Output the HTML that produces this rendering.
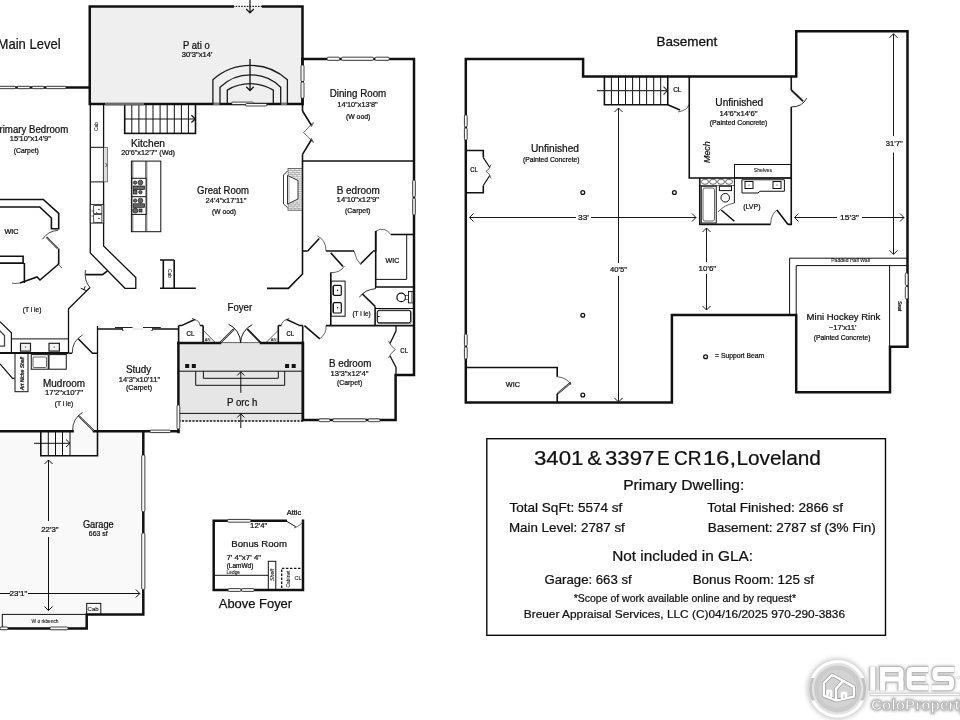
<!DOCTYPE html>
<html><head><meta charset="utf-8">
<style>
html,body{margin:0;padding:0;background:#fff;width:960px;height:720px;overflow:hidden}
svg{display:block}
text{font-family:"Liberation Sans",sans-serif;fill:#111;stroke:#111;stroke-width:0.24}
svg{will-change:transform}
.w{stroke:#111;stroke-width:2.5;fill:none;stroke-linecap:square}
.m{stroke:#111;stroke-width:1.6;fill:none}
.t{stroke:#111;stroke-width:1;fill:none}
.h{stroke:#222;stroke-width:0.7;fill:none}
.win{stroke:#888;stroke-width:1.2;fill:#fff}
</style></head>
<body>
<svg width="960" height="720" viewBox="0 0 960 720">
<rect width="960" height="720" fill="#fff"/>

<!-- ===== MAIN LEVEL ===== -->
<!-- Patio -->
<path d="M0,431.3 H143.3 V614.4 H86.7 V628.4 H0 Z" fill="#f9f9f9"/>
<rect x="89.75" y="6.5" width="212.75" height="97.5" fill="#efefef"/>
<path class="w" d="M232.8,6.5 H89.75 V104 H302.5 V6.5 H263.1"/>
<path d="M232.8,6.4 H263.1" stroke="#222" stroke-width="1.3" stroke-dasharray="1.6,1.2"/>
<!-- arrows top of patio -->
<path class="t" style="stroke-width:1.2" d="M250,0 V13 M246.2,9 L250,13 L253.8,9"/>
<path class="t" style="stroke-width:1.3" d="M250,59 V90.6 M246.3,86.8 L250,90.6 L253.7,86.8"/>
<!-- arches -->
<g stroke="#1a1a1a" stroke-width="1.3" fill="none">
<path d="M212.9,104 V79.75 A55.5,55.5 0 0 1 287.4,79.75 V104"/>
<path d="M220,104 V87.2 A43.3,43.3 0 0 1 280.7,87.2 V104"/>
<path d="M227.3,104 V90.1 A44.5,44.5 0 0 1 273.3,90.1 V104"/>
</g>
<path d="M213.5,104 H219.5 M281.2,104 H286.8" stroke="#999" stroke-width="1.6"/>
<!-- Primary bedroom top wall -->
<path class="w" d="M0,87.5 H89.75"/>

<!-- Dining room -->
<path class="w" d="M302.5,59 H414 V375 H395.6 V420 H303 V343"/>
<path class="w" d="M302.5,59 V104"/>
<path class="m" d="M302.5,104 V111 M302.5,154.3 V274 L288.4,288.4 H267"/>
<path class="m" d="M302.5,111 L311.5,125.5 M302.5,154.3 L311.5,139.5"/>
<path class="h" d="M311,127 Q312.5,125 313.5,122.5 M313,122.5 Q309,126.5 303.5,132.7 Q309,137 313,142.5 M311,138 Q312.5,140 313.5,142.5"/>
<path class="m" d="M302.5,161 H414.5"/>

<!-- fireplace -->
<rect x="288" y="168.4" width="14" height="41.8" fill="#f4f4f4" stroke="#333" stroke-width="0.7"/>
<g stroke="#666" stroke-width="0.45">
<path d="M288,170.5 H302 M288,172.6 H302 M288,174.7 H302 M288,176.8 H302 M288,178.9 H302 M288,181 H302 M288,183.1 H302 M288,185.2 H302 M288,187.3 H302 M288,189.4 H302 M288,191.5 H302 M288,193.6 H302 M288,195.7 H302 M288,197.8 H302 M288,199.9 H302 M288,202 H302 M288,204.1 H302 M288,206.2 H302 M288,208.3 H302"/>
<path d="M291,168.4 V170.5 M295,168.4 V170.5 M299,168.4 V170.5 M293,170.5 V172.6 M297,170.5 V172.6 M291,172.6 V174.7 M295,172.6 V174.7 M299,172.6 V174.7 M293,174.7 V176.8 M297,174.7 V176.8 M293,202 V204.1 M297,202 V204.1 M291,204.1 V206.2 M295,204.1 V206.2 M299,204.1 V206.2 M293,206.2 V208.3 M297,206.2 V208.3 M291,208.3 V210.2 M295,208.3 V210.2 M299,208.3 V210.2"/>
</g>
<path d="M287.5,171 L283.5,175 V204 L287.5,207.5" stroke="#222" stroke-width="0.9" fill="#fff"/>
<path d="M287.5,175.5 L298,180.5 V199 L287.5,204 Z" stroke="#222" stroke-width="0.9" fill="#fff"/>
<path d="M289,177 V202.5" stroke="#555" stroke-width="0.5"/>
<!-- bedroom 1 bottom & hall -->
<path class="m" d="M302.5,251 H307.7 M326,251 H354 M373,251 H375.7 V231"/>
<path class="m" d="M307.7,251 L319.25,238.5"/>
<path class="h" d="M317.5,236 Q326,240 326,251"/>
<path class="m" d="M330.8,252.9 L343,266.5"/>
<path class="h" d="M344.5,266 Q340,273 330.8,272.6"/>
<path class="m" d="M360.7,263.8 L373,251.5"/>
<path class="h" d="M354,251 Q356,260 361,265"/>
<path class="m" d="M330.8,272.6 V325.6"/>
<path class="h" d="M375.7,231 Q385,226 390.7,234.5"/>
<path class="m" d="M390.7,234.5 H414.5"/>
<path class="t" d="M406.7,234.5 V279.4 H375.7"/>
<path class="m" d="M375.7,231 V287 H414.5"/>
<!-- vanity -->
<rect x="331" y="281.1" width="14.1" height="35.1" class="t"/>
<rect x="331.5" y="286" width="2" height="9" fill="#888"/><rect x="331.5" y="303.5" width="2" height="9" fill="#888"/>
<rect x="333.4" y="285.4" width="7.9" height="9.9" rx="1" fill="#fff" stroke="#111" stroke-width="1.2"/>
<rect x="333.4" y="302.7" width="7.9" height="10.3" rx="1" fill="#fff" stroke="#111" stroke-width="1.2"/>
<circle cx="337.5" cy="290.3" r="0.7" fill="#111"/><circle cx="337.5" cy="307.8" r="0.7" fill="#111"/>
<!-- bath door -->
<path stroke="#222" stroke-width="1.7" fill="none" d="M362.3,293.9 L375.1,306.4"/>
<path class="t" style="stroke-width:0.9" d="M359.2,297.4 Q365,289.5 375.5,288.7 V286.6"/>
<path class="t" d="M375.1,308.5 H414"/>
<path class="m" d="M375.1,306.4 V325.6"/>
<rect x="377.6" y="310.6" width="33.6" height="12.8" rx="2" fill="#fff" stroke="#888" stroke-width="1.1"/>
<rect x="377.2" y="310.2" width="33.4" height="12.6" rx="2" fill="none" stroke="#111" stroke-width="1"/>
<path d="M377.5,316.5 H379.5" stroke="#111" stroke-width="1"/>
<circle cx="401.2" cy="297.4" r="4.3" fill="#fff" stroke="#111" stroke-width="1.2"/>
<rect x="405.5" y="295.5" width="3" height="4" fill="#fff" stroke="#111" stroke-width="0.6"/>
<rect x="408.5" y="291.5" width="4.5" height="11.4" fill="#fff" stroke="#111" stroke-width="0.9"/>
<rect x="411" y="292.2" width="1.6" height="10" fill="#999"/>

<!-- bedroom 2 -->
<path class="m" d="M326,325.6 H414.5"/>
<path class="m" d="M304.4,325.6 L319.8,338.8"/>
<path class="h" d="M319.8,338.8 Q327,333 326,325.6"/>
<path class="m" style="stroke-width:1.3" d="M396,325.6 V331 L390,343.5 M390,355.7 L396,367.5 V375"/>
<path class="h" d="M388.5,341 Q390.5,346 395.4,349.6 Q390.5,353 388.5,358"/>
<path class="m" d="M395.6,375 H414.5"/>

<!-- Porch -->
<rect x="178.4" y="343" width="124.3" height="78" fill="#e6e6e6"/>
<path class="w" d="M178.4,343 V432 M302.7,343 V420"/>
<path class="m" d="M178.6,325.6 V343 M302.7,325.6 V343"/>
<path class="w" d="M178.4,343 H220 M261,343 H302.7"/>
<path class="t" d="M178.4,371.2 H302.7 M178.4,413.4 H302.7"/>
<path d="M178.4,421 H302.7" stroke="#111" stroke-width="1.5" stroke-dasharray="2.2,1.3"/>
<path class="t" d="M195.7,371.2 V385.3 H284.7 V371.2 M203.4,371.2 V378.3 H278.3 V371.2"/>
<rect x="185.2" y="364" width="4" height="4" fill="#111"/><rect x="191.8" y="364" width="4" height="4" fill="#111"/>
<rect x="285.1" y="364" width="4" height="4" fill="#111"/><rect x="291.7" y="364" width="4" height="4" fill="#111"/>
<path class="t" d="M240.8,392.8 V371.8 M237.2,375.5 L240.8,371.8 L244.4,375.5"/>
<path class="t" d="M240.8,428 V413.8 M237.2,417.5 L240.8,413.8 L244.4,417.5"/>
<!-- closets above porch -->
<path class="m" d="M203.1,325.6 V343 M278.3,325.6 V343"/>
<path stroke="#111" stroke-width="1.5" fill="none" d="M178.6,325.6 H181.6 L194.7,319.5 M199.8,325.6 H203.1 M302.8,325.6 H299.8 L286.7,319.5 M281.6,325.6 H278.3"/>
<path class="h" d="M191.9,318.2 L195.5,320 M194.7,319.5 Q199.5,321 199.8,324.8 M289.5,318.2 L285.9,320 M286.7,319.5 Q281.9,321 281.6,324.8"/>
<path class="h" d="M203.1,330.3 L215.8,343 M278.3,330.3 L265.6,343"/>
<text style="stroke-width:0.05" x="204.66" y="341" font-size="3.5" textLength="5.74" lengthAdjust="spacingAndGlyphs">AN</text>
<text style="stroke-width:0.05" x="270.66" y="341" font-size="3.5" textLength="5.74" lengthAdjust="spacingAndGlyphs">AN</text>
<path stroke="#222" stroke-width="1.8" fill="none" d="M220,343 L234,329 M261,343 L247.3,329"/>
<path stroke="#fff" stroke-width="0.5" fill="none" d="M220.5,342.5 L233.5,329.5"/>
<path class="t" d="M228.7,324.3 A20.6,20.6 0 0 1 240.6,343 M252.3,324.7 A20.2,20.2 0 0 0 240.6,343"/>
<path class="h" d="M220,342.6 H261"/>
<!-- Study -->
<path class="m" style="stroke-width:1.3" d="M97.5,326 V432"/>
<path class="m" d="M97.5,329 H178.4"/>
<!-- bottom wall / garage top -->
<path class="w" d="M0,431.3 H72.6 M94,431.3 H178.4"/>

<!-- Kitchen -->
<path class="m" style="stroke-width:1.3" d="M90.3,104 V253 L125,288.3 H135.8 V277.5 L103.6,246 V104"/>
<path class="t" d="M90.3,147.3 H103.6 M90.3,181.9 H103.6"/>
<rect x="103.6" y="147.3" width="3.9" height="34.6" fill="#ddd" stroke="#333" stroke-width="0.6"/>
<path class="h" d="M105.5,163 L107,165 L105.5,167"/>
<rect x="90.3" y="204.4" width="13.4" height="18.7" fill="#fff" stroke="#222" stroke-width="0.9"/>
<rect x="93.7" y="205.6" width="8.2" height="8.1" fill="#fff" stroke="#222" stroke-width="0.8"/>
<rect x="93.7" y="214.6" width="8.2" height="7.9" fill="#fff" stroke="#222" stroke-width="0.8"/>
<circle cx="99" cy="209.5" r="0.7" fill="#111"/><circle cx="99" cy="218.5" r="0.7" fill="#111"/>
<path class="h" d="M91.5,211 H93.5 M91.5,216 H93.5 M96,212 L98,214"/>
<!-- stairs -->
<rect x="124.7" y="104" width="70.8" height="29.4" class="m"/>
<path class="t" d="M131.8,104 V133.4 M138.9,104 V133.4 M146,104 V133.4 M153,104 V133.4 M160.1,104 V133.4 M167.2,104 V133.4 M174.3,104 V133.4 M181.4,104 V133.4 M188.4,104 V133.4 M124.7,119 H195.5"/>
<path stroke="#111" stroke-width="1.3" fill="none" d="M191.4,115.3 L195.3,119.1 L191.4,122.6"/>
<!-- island -->
<rect x="131.4" y="161.1" width="29.4" height="70.6" class="t"/>
<path class="h" d="M132.8,161.1 V231.7 M145.6,161.1 V231.7 M146.8,161.1 V231.7"/>
<rect x="131.9" y="178.3" width="14.2" height="36.1" fill="#fff" stroke="#111" stroke-width="1"/>
<path class="t" d="M131.9,196.7 H146.1"/>
<g fill="#666" stroke="#111" stroke-width="0.7">
<circle cx="135.1" cy="182.6" r="1.7"/><circle cx="140.4" cy="182.6" r="2.4"/>
<rect x="133.2" y="186" width="11.3" height="3.5"/>
<rect x="133.4" y="190.4" width="3.5" height="3.6"/><circle cx="140.4" cy="192.2" r="1.7"/>
<circle cx="135.1" cy="200.6" r="1.7"/><circle cx="140.4" cy="200.6" r="2.4"/>
<rect x="133.2" y="203.8" width="11.3" height="3.5"/>
<circle cx="135.3" cy="210.6" r="2.5"/><rect x="139" y="209" width="3" height="3"/>
</g>
<!-- cab in great room -->
<path class="m" d="M160,260 H174.2 M163.3,260 V288.3 M174.2,260 V288.3 M160,288.3 H195.8"/>
<!-- pantry door -->
<path class="m" d="M85.4,274.6 H102.5 L107.5,270.8"/>
<path class="t" style="stroke-width:0.8" d="M85.4,270 Q84,281 90,287.5"/>
<path class="t" d="M80.8,288.3 L86.7,290.8 M83.8,289.6 L85.3,286.3"/>
<path class="m" style="stroke-width:1.3" d="M90,287.5 L68.5,308.75 V353.2"/>

<!-- Primary WIC -->
<path class="m" d="M0,199.5 H43.3 L58.7,213.4 V228.7 H51.4 V218 L39.7,207 H0"/>
<path class="m" d="M58.7,248.6 V264 L40,280 L37,277 L20,283"/>
<path class="t" style="stroke-width:0.8" d="M58,230.3 Q48,231 42.4,239.3"/>
<path stroke="#222" stroke-width="1.8" fill="none" d="M46.5,237.2 L57.6,248.3"/>
<path stroke="#fff" stroke-width="0.5" fill="none" d="M47,237.7 L57.1,247.8"/>
<path class="m" d="M0,256.3 H23.1 V263.1 H0 M24.4,263.1 V283.1"/>
<path class="h" d="M57.5,263.75 L62,268"/>
<path class="h" d="M20,283 Q14,284 12,283"/>

<!-- Mudroom -->
<path class="t" d="M11.4,338.9 H68.1"/>
<path class="m" style="stroke-width:1.8" d="M0,353 H68.1"/>

<rect x="20.5" y="343.3" width="10" height="7.8" fill="#f2f2f2" stroke="#222" stroke-width="1.2"/>
<rect x="49" y="343.3" width="10.4" height="7.8" fill="#f2f2f2" stroke="#222" stroke-width="1.2"/>
<circle cx="25.5" cy="347" r="0.6" fill="#111"/><circle cx="54.2" cy="347" r="0.6" fill="#111"/>
<rect x="15" y="353.3" width="13" height="38.4" class="t"/>
<rect x="31.25" y="354.6" width="17" height="14.6" class="t"/>
<rect x="33" y="357" width="13.5" height="10.5" rx="1" class="h"/>
<rect x="49" y="354.6" width="17.25" height="14.6" class="t"/>
<path stroke="#111" stroke-width="1.6" fill="none" d="M78.2,338.8 L92.5,353.2 H97.6 M68.5,353.2 H72.1"/>
<path class="t" style="stroke-width:0.8" d="M72.3,353.2 A20.2,20.2 0 0 1 82.6,335"/>
<path stroke="#222" stroke-width="1.8" fill="none" d="M78.7,415.9 L94,431"/>
<path stroke="#fff" stroke-width="0.5" fill="none" d="M79.2,416.4 L93.5,430.5"/>
<path class="t" style="stroke-width:0.8" d="M72.6,431 A21.4,21.4 0 0 1 82.6,412.3"/>
<path class="m" style="stroke-width:1.2" d="M0,321.7 L11.4,332.8 V352.5 M0,363.9 L12.5,378.3 H14.6"/>
<path stroke="#444" stroke-width="1.3" fill="none" d="M-1,330 L4.5,335.6 V346.1 H-1"/>

<!-- Garage -->
<path class="w" d="M143.3,431.3 V614.4 H86.7 V628.4 H0"/>
<rect x="2.3" y="614.4" width="84.4" height="14" class="t"/>
<rect x="86.7" y="603.4" width="14.1" height="11" class="t"/>
<path class="m" d="M40.8,431.3 V455.8 H97.5 V431.3"/>
<path class="t" d="M48.3,431.3 V455.8 M55.5,431.3 V455.8 M62.5,431.3 V455.8 M70,431.3 V455.8 M34,443.3 H70 M66,439.5 L70,443.3 L66,447"/>
<path class="t" d="M48.5,460 V521 M48.5,537 V610.5 M44.5,464 L48.5,460 L52.5,464 M44.5,606.5 L48.5,610.5 L52.5,606.5"/>
<path class="t" d="M0,593.5 H10 M28,593.5 H139.8 M135.8,589.5 L139.8,593.5 L135.8,597.5"/>

<!-- Bonus room -->
<path class="w" d="M285.8,520.8 H213.7 V590 H303 V520.8"/>
<path class="t" d="M285.8,520.8 L295.8,526.7"/>
<path class="h" d="M294,528 Q302,525 303,520.8"/>
<path class="t" d="M213.7,575.3 H268.3"/>
<rect x="268.3" y="561.3" width="7.5" height="28.7" class="t"/>
<path d="M281.7,588 V568.3 H303" stroke="#111" stroke-width="1.3" fill="none" stroke-dasharray="2.4,1.6"/>

<!-- ===== MAIN LEVEL TEXT ===== -->
<g>
<text x="-2.47" y="48.6" font-size="14.3" textLength="63.15" lengthAdjust="spacingAndGlyphs">Main Level</text>
<text x="183.05" y="49" font-size="10.2" textLength="26.70" lengthAdjust="spacingAndGlyphs">P ati o</text>
<text x="181.77" y="57" font-size="7" textLength="30.65" lengthAdjust="spacingAndGlyphs">30'3"x14'</text>
<text x="329.71" y="97" font-size="10.2" textLength="56.52" lengthAdjust="spacingAndGlyphs">Dining Room</text>
<text x="337.37" y="106.5" font-size="7.5" textLength="40.29" lengthAdjust="spacingAndGlyphs">14'10"x13'8"</text>
<text x="345.91" y="118.5" font-size="7" textLength="24.51" lengthAdjust="spacingAndGlyphs">(W ood)</text>
<text x="-7" y="132.5" font-size="10.2" textLength="75.3" lengthAdjust="spacingAndGlyphs">Primary Bedroom</text>
<text x="9.82" y="141.2" font-size="7.5" textLength="41.13" lengthAdjust="spacingAndGlyphs">15'10"x14'9"</text>
<text x="13.81" y="153.3" font-size="7" textLength="25.10" lengthAdjust="spacingAndGlyphs">(Carpet)</text>
<text x="130.91" y="146.5" font-size="10.2" textLength="34.11" lengthAdjust="spacingAndGlyphs">Kitchen</text>
<text x="121.20" y="155" font-size="7.5" textLength="53.87" lengthAdjust="spacingAndGlyphs">20'6"x12'7" (Wd)</text>
<text x="197.12" y="194.2" font-size="10.2" textLength="51.84" lengthAdjust="spacingAndGlyphs">Great Room</text>
<text x="205.62" y="203.3" font-size="7.5" textLength="40.81" lengthAdjust="spacingAndGlyphs">24'4"x17'11"</text>
<text x="212.01" y="213.6" font-size="7" textLength="23.91" lengthAdjust="spacingAndGlyphs">(W ood)</text>
<text x="336.71" y="194.2" font-size="10.2" textLength="43.05" lengthAdjust="spacingAndGlyphs">B edroom</text>
<text x="336.60" y="202" font-size="7.5" textLength="42.39" lengthAdjust="spacingAndGlyphs">14'10"x12'9"</text>
<text x="345.01" y="212.5" font-size="7" textLength="25.40" lengthAdjust="spacingAndGlyphs">(Carpet)</text>
<text x="4.44" y="233.8" font-size="6.5" textLength="14.14" lengthAdjust="spacingAndGlyphs">WIC</text>
<text x="385.50" y="263.1" font-size="6.5" textLength="13.78" lengthAdjust="spacingAndGlyphs">WIC</text>
<text x="22.83" y="311.9" font-size="7" textLength="18.67" lengthAdjust="spacingAndGlyphs">(T i le)</text>
<text x="352.43" y="315.5" font-size="7" textLength="18.29" lengthAdjust="spacingAndGlyphs">(T i le)</text>
<text x="227.55" y="310.9" font-size="10.2" textLength="24.64" lengthAdjust="spacingAndGlyphs">Foyer</text>
<text x="186.42" y="335.6" font-size="6.5" textLength="7.93" lengthAdjust="spacingAndGlyphs">CL</text>
<text x="286.50" y="335.6" font-size="6.5" textLength="7.56" lengthAdjust="spacingAndGlyphs">CL</text>
<text x="400.31" y="353.2" font-size="6.5" textLength="7.73" lengthAdjust="spacingAndGlyphs">CL</text>
<text x="328.93" y="366.8" font-size="10.2" textLength="42.49" lengthAdjust="spacingAndGlyphs">B edroom</text>
<text x="330.62" y="375.5" font-size="7.5" textLength="37.79" lengthAdjust="spacingAndGlyphs">13'3"x12'4"</text>
<text x="337.01" y="384.5" font-size="7" textLength="25.21" lengthAdjust="spacingAndGlyphs">(Carpet)</text>
<text x="125.95" y="373.2" font-size="10.2" textLength="25.25" lengthAdjust="spacingAndGlyphs">Study</text>
<text x="118.89" y="381.6" font-size="7.5" textLength="41.26" lengthAdjust="spacingAndGlyphs">14'3"x10'11"</text>
<text x="125.95" y="390.4" font-size="7" textLength="26.14" lengthAdjust="spacingAndGlyphs">(Carpet)</text>
<text x="43.03" y="386.9" font-size="10.2" textLength="42.04" lengthAdjust="spacingAndGlyphs">Mudroom</text>
<text x="45.09" y="394.6" font-size="7.5" textLength="37.89" lengthAdjust="spacingAndGlyphs">17'2"x10'7"</text>
<text x="54.82" y="406.25" font-size="7" textLength="18.49" lengthAdjust="spacingAndGlyphs">(T i le)</text>
<text x="226.95" y="405.9" font-size="10.2" textLength="30.47" lengthAdjust="spacingAndGlyphs">P orc h</text>
<text x="82.95" y="527.5" font-size="10.2" textLength="30.82" lengthAdjust="spacingAndGlyphs">Garage</text>
<text x="88.85" y="535.8" font-size="7.5" textLength="18.88" lengthAdjust="spacingAndGlyphs">663 sf</text>
<text x="41.19" y="531.7" font-size="7.5" textLength="17.38" lengthAdjust="spacingAndGlyphs">22'3"</text>
<text x="9.62" y="596" font-size="7.5" textLength="17.73" lengthAdjust="spacingAndGlyphs">23'1"</text>
<text style="stroke-width:0.08" x="87.54" y="611" font-size="5" textLength="11.15" lengthAdjust="spacingAndGlyphs">Cab</text>
<text style="stroke-width:0.08" x="31.50" y="622.5" font-size="5" textLength="27.02" lengthAdjust="spacingAndGlyphs">W o rkbench</text>
<text x="286.74" y="514.7" font-size="6.5" textLength="14.47" lengthAdjust="spacingAndGlyphs">Attic</text>
<text x="250.09" y="528" font-size="7.5" textLength="17.22" lengthAdjust="spacingAndGlyphs">12'4"</text>
<text x="231.35" y="546.7" font-size="9.6" textLength="55.56" lengthAdjust="spacingAndGlyphs">Bonus Room</text>
<text x="226.45" y="560.3" font-size="7.5" textLength="34.68" lengthAdjust="spacingAndGlyphs">7' 4"x7' 4"</text>
<text x="226.63" y="567.5" font-size="7" textLength="26.73" lengthAdjust="spacingAndGlyphs">(LamWd)</text>
<text style="stroke-width:0.08" x="226.53" y="574.2" font-size="4.5" textLength="13.53" lengthAdjust="spacingAndGlyphs">Ledge</text>
<text style="stroke-width:0.08" x="294.44" y="580.3" font-size="5.5" textLength="7.10" lengthAdjust="spacingAndGlyphs">CL</text>
<text x="218.76" y="607.5" font-size="13.7" textLength="73.39" style="stroke-width:0.25" lengthAdjust="spacingAndGlyphs">Above Foyer</text>
<text style="stroke-width:0.08" transform="translate(98,131) rotate(-90)" font-size="4.5" textLength="9" lengthAdjust="spacingAndGlyphs">Cab</text>
<text style="stroke-width:0.08" transform="translate(168,269) rotate(90)" font-size="4.5" textLength="9" lengthAdjust="spacingAndGlyphs">Cab</text>
<text transform="translate(24,390) rotate(-90)" font-size="4.5" textLength="33" lengthAdjust="spacingAndGlyphs" font-style="italic">Art Niche Shelf</text>
<text style="stroke-width:0.08" transform="translate(273.5,581) rotate(-90)" font-size="5" textLength="12" lengthAdjust="spacingAndGlyphs" font-style="italic">Shelf</text>
<text style="stroke-width:0.08" transform="translate(289.5,587.5) rotate(-90)" font-size="4.5" textLength="17" lengthAdjust="spacingAndGlyphs">Cabinet</text>
</g>

<!-- ===== BASEMENT ===== -->
<path class="w" d="M465.8,59 H583.1 V76.5 H796.25 V31.25 H907.5 V346.7 H890 V392.2 H796.2 V315 H671.9 V402.5 H465.8 Z"/>
<!-- stairs -->
<path class="m" d="M604.4,76.5 V104.75 H667.75 V76.5"/>
<path class="t" d="M611.4,76.5 V104.75 M618.5,76.5 V104.75 M625.5,76.5 V104.75 M632.6,76.5 V104.75 M639.6,76.5 V104.75 M646.6,76.5 V104.75 M653.7,76.5 V104.75 M660.7,76.5 V104.75"/>
<path d="M596.9,90.6 H667.5 M663.5,86.6 L667.5,90.6 L663.5,94.6" stroke="#333" stroke-width="1.1" fill="none"/>
<path class="m" d="M667.75,104.75 L680,110"/>
<path class="h" d="M678,112 Q688,110 688.75,104.75"/>
<!-- mech/unfinished room -->
<path class="m" d="M689.25,76.5 V178 H791.25 V106.9 M791.25,90 V76.5"/>
<path stroke="#222" stroke-width="1.8" fill="none" d="M791.25,90 L803.1,101.25"/>
<path class="t" style="stroke-width:0.9" d="M791.25,106.9 A17.2,17.2 0 0 0 806.9,98.1"/>
<rect x="734.5" y="164.5" width="56.75" height="13.5" class="t"/>
<!-- bath -->
<path class="m" d="M699.75,178 V224.4 H770.6 M788,224.4 H791.25 V178"/>
<path class="t" d="M734.4,178 V203"/>
<path class="h" d="M734.4,203 Q724,205 718,212"/>
<rect x="699.75" y="178" width="34.65" height="7.6" class="h"/>
<g class="h"><ellipse cx="705" cy="181.8" rx="3.5" ry="2.5"/><ellipse cx="713" cy="181.8" rx="3.5" ry="2.5"/><ellipse cx="721" cy="181.8" rx="3.5" ry="2.5"/><ellipse cx="729" cy="181.8" rx="3.5" ry="2.5"/></g>
<rect x="701.25" y="186.25" width="15" height="36.75" class="t"/>
<rect x="703" y="188" width="11.5" height="33" rx="2" class="h"/>
<circle cx="725.25" cy="197.75" r="4.3" class="t"/>
<rect x="719.4" y="186.25" width="12.1" height="4.35" class="t"/>
<path class="t" d="M741.9,179.75 H784.4 V191.25 H760 L758,193 H742 Z"/>
<rect x="745" y="181.5" width="8" height="7" class="t"/><rect x="773" y="181.5" width="8" height="7" class="t"/>
<circle cx="749" cy="185" r="0.6" fill="#111"/><circle cx="777" cy="185" r="0.6" fill="#111"/>
<path class="m" d="M721.25,210 L734.4,221.25 M776.9,210 L788,224.4"/>
<path class="h" d="M770.6,224.4 Q771,214 777,210"/>
<!-- left CL -->
<path class="m" d="M465.8,150.5 H483.3 V157.6 M483.3,185.5 V192.7 H465.8"/>
<path class="t" style="stroke-width:1.2" d="M483.3,157.6 L489.8,167.5 M489.8,175.5 L483.3,185.5"/>
<path class="h" d="M491,164.5 Q490,169 486,171.3 Q490,173.5 491,178.5"/>
<!-- WIC -->
<path class="m" d="M465.8,367.5 H557.2 V376.7 M557.2,394 V402.5"/>
<path stroke="#222" stroke-width="1.8" fill="none" d="M557.2,394 L570.8,382.5"/>
<path stroke="#fff" stroke-width="0.5" fill="none" d="M557.8,393.4 L570.2,383.1"/>
<path class="h" d="M557.2,376.7 Q568,378 571,385"/>
<!-- support beams -->
<g fill="none" stroke="#111" stroke-width="1.3"><circle cx="582.8" cy="192.5" r="1.9"/><circle cx="674.4" cy="192.5" r="1.9"/><circle cx="582.8" cy="315.2" r="1.9"/><circle cx="582.8" cy="395" r="1.9"/><circle cx="705.6" cy="356.8" r="1.9"/></g>
<!-- padded half wall / rink -->
<path class="t" d="M789.6,315 V258.2 H907.5 M796.2,315 V265.6 H907.5 M889.6,265.6 V346.7"/>
<!-- dims -->
<g stroke="#1a1a1a" stroke-width="1" fill="none">
<path d="M469.5,217.5 H576 M591,217.5 H696 M473.5,213.5 L469.5,217.5 L473.5,221.5 M692,213.5 L696,217.5 L692,221.5"/>
<path d="M794.5,217.5 H837 M862,217.5 H904 M798.5,213.5 L794.5,217.5 L798.5,221.5 M900,213.5 L904,217.5 L900,221.5"/>
<path d="M618.5,108 V263 M618.5,276 V402 M614.5,112 L618.5,108 L622.5,112 M614.5,398 L618.5,402 L622.5,398"/>
<path d="M706.5,228 V262 M706.5,274 V310 M702.5,232 L706.5,228 L710.5,232 M702.5,306 L706.5,310 L710.5,306"/>
<path d="M893.5,33.75 V136 M893.5,152.5 V254.4 M889.5,37.75 L893.5,33.75 L897.5,37.75 M889.5,250.4 L893.5,254.4 L897.5,250.4"/>
</g>
<!-- basement text -->
<g>
<text x="656.58" y="45.7" font-size="13.6" textLength="60.77" style="stroke-width:0.3" lengthAdjust="spacingAndGlyphs">Basement</text>
<text x="530.94" y="151.7" font-size="10.2" textLength="48.05" lengthAdjust="spacingAndGlyphs">Unfinished</text>
<text x="523.01" y="162" font-size="7" textLength="56.62" lengthAdjust="spacingAndGlyphs">(Painted Concrete)</text>
<text x="470.23" y="172" font-size="6.5" textLength="7.53" lengthAdjust="spacingAndGlyphs">CL</text>
<text x="673.15" y="91.9" font-size="6.5" textLength="8.35" lengthAdjust="spacingAndGlyphs">CL</text>
<text x="715.36" y="105.5" font-size="10.2" textLength="47.87" lengthAdjust="spacingAndGlyphs">Unfinished</text>
<text x="719.60" y="115.5" font-size="7.5" textLength="37.83" lengthAdjust="spacingAndGlyphs">14'6"x14'6"</text>
<text x="709.75" y="125" font-size="7" textLength="57.65" lengthAdjust="spacingAndGlyphs">(Painted Concrete)</text>
<text transform="translate(709.5,163) rotate(-90)" font-size="8.5" font-style="italic" textLength="21.75" lengthAdjust="spacingAndGlyphs">Mech</text>
<text style="stroke-width:0.08" x="753.78" y="172" font-size="4.5" textLength="18.19" lengthAdjust="spacingAndGlyphs">Shelves</text>
<text x="743.19" y="208.75" font-size="7" textLength="17.28" lengthAdjust="spacingAndGlyphs">(LVP)</text>
<text x="578.04" y="219.5" font-size="7.5" textLength="10.91" lengthAdjust="spacingAndGlyphs">33'</text>
<text x="840.07" y="220" font-size="7.5" textLength="18.81" lengthAdjust="spacingAndGlyphs">15'3"</text>
<text x="885.75" y="145.5" font-size="7.5" textLength="16.88" lengthAdjust="spacingAndGlyphs">31'7"</text>
<text x="610.05" y="272" font-size="7.5" textLength="16.78" lengthAdjust="spacingAndGlyphs">40'5"</text>
<text x="698.62" y="270.8" font-size="7.5" textLength="17.53" lengthAdjust="spacingAndGlyphs">10'6"</text>
<text style="stroke-width:0.08" x="831.27" y="262.2" font-size="4.5" textLength="38.62" lengthAdjust="spacingAndGlyphs">Padded Half Wall</text>
<text transform="translate(897.5,301) rotate(90)" font-size="4.5" textLength="10" lengthAdjust="spacingAndGlyphs" font-style="italic">Seat</text>
<text x="806.55" y="320" font-size="9.4" textLength="73.79" lengthAdjust="spacingAndGlyphs">Mini Hockey Rink</text>
<text x="828.87" y="330" font-size="7.5" textLength="27.56" lengthAdjust="spacingAndGlyphs">~17'x11'</text>
<text x="813.63" y="340.4" font-size="7" textLength="56.79" lengthAdjust="spacingAndGlyphs">(Painted Concrete)</text>
<text x="715.07" y="358" font-size="7" textLength="49.18" lengthAdjust="spacingAndGlyphs">= Support Beam</text>
<text x="505.83" y="386.7" font-size="6.5" textLength="14.11" lengthAdjust="spacingAndGlyphs">WIC</text>
</g>

<!-- windows -->
<g fill="#f8f8f8" stroke="#1a1a1a" stroke-width="0.8">
<rect x="301.0" y="65" width="3" height="16.5" ry="1.2"/>
<rect x="301.0" y="82" width="3" height="16.3" ry="1.2"/>
<rect x="105" y="103" width="39" height="2.4" fill="#6a6a6a" stroke="none"/>
<rect x="231.7" y="102.1" width="21.8" height="2.5" rx="1"/>
<rect x="245.6" y="103.5" width="21.3" height="2.5" rx="1"/>
<rect x="-2" y="86.3" width="17.5" height="2.4" rx="1.2"/>
<rect x="17.5" y="86.3" width="12.5" height="2.4" rx="1.2"/>
<rect x="32" y="86.3" width="12" height="2.4" rx="1.2"/>
<rect x="46" y="86.3" width="20" height="2.4" rx="1.2"/>
<rect x="327.1" y="57.15" width="12.4" height="3.2" rx="1.2"/>
<rect x="341.5" y="57.15" width="32.0" height="3.2" rx="1.2"/>
<rect x="375" y="57.15" width="14.2" height="3.2" rx="1.2"/>
<rect x="412.7" y="180" width="2.6" height="17" ry="1.2"/>
<rect x="412.7" y="198" width="2.6" height="17" ry="1.2"/>
<rect x="318.75" y="418.90000000000003" width="11.25" height="2.8" rx="1.2"/>
<rect x="332.75" y="418.90000000000003" width="33.25" height="2.8" rx="1.2"/>
<rect x="368.1" y="418.90000000000003" width="11.9" height="2.8" rx="1.2"/>
<rect x="177.0" y="405" width="2.8" height="24" ry="1.2"/>
<rect x="150" y="430.1" width="20.6" height="2.5" rx="1.2"/>
<rect x="141.70000000000002" y="455" width="3.2" height="56.7" ry="1.2"/>
<rect x="141.70000000000002" y="533" width="3.2" height="56.4" ry="1.2"/>
<rect x="227.5" y="519.4" width="23.3" height="2.8" rx="1.2"/>
<rect x="228" y="588.6" width="13" height="2.8" rx="1.2"/>
<rect x="241.5" y="588.6" width="12.7" height="2.8" rx="1.2"/>
<rect x="0" y="627.0" width="8" height="2.8" rx="1.2"/>
<rect x="50" y="627.0" width="18" height="2.8" rx="1.2"/>
<rect x="464.40000000000003" y="115" width="2.8" height="12" ry="1.2"/>
<rect x="464.40000000000003" y="128" width="2.8" height="12" ry="1.2"/>
<rect x="464.40000000000003" y="334" width="2.8" height="12" ry="1.2"/>
<rect x="464.40000000000003" y="347" width="2.8" height="12" ry="1.2"/>
<rect x="905.3000000000001" y="273" width="2.8" height="12.5" ry="1.2"/>
<rect x="905.3000000000001" y="286.5" width="2.8" height="12.5" ry="1.2"/>
</g>
<path d="M115,327.6 H132.5 M143,327.6 H160.8 M122.9,329 V331 M152,329 V331" stroke="#222" stroke-width="1.1" fill="none"/>
<path d="M123,329 H152" stroke="#fff" stroke-width="2"/>
<path d="M132.5,329 H143" stroke="#ccc" stroke-width="0.8"/>
<!-- ===== INFO BOX ===== -->
<rect x="486.8" y="438.7" width="398.7" height="196.6" fill="#fff" stroke="#0a0a0a" stroke-width="1.4"/>
<g fill="#111">
<text class="tw" x="533.94" y="465.4" font-size="20.5" textLength="49.52" lengthAdjust="spacingAndGlyphs">3401</text>
<text class="tw" x="587.33" y="465.4" font-size="20.5" textLength="14.27" lengthAdjust="spacingAndGlyphs">&amp;</text>
<text class="tw" x="604.95" y="465.4" font-size="20.5" textLength="49.43" lengthAdjust="spacingAndGlyphs">3397</text>
<text class="tw" x="657.08" y="465.4" font-size="20.5" textLength="12.72" lengthAdjust="spacingAndGlyphs">E</text>
<text class="tw" x="673.99" y="465.4" font-size="20.5" textLength="27.46" lengthAdjust="spacingAndGlyphs">CR</text>
<text class="tw" x="702.67" y="465.4" font-size="20.5" textLength="33.40" lengthAdjust="spacingAndGlyphs">16,</text>
<text class="tw" x="736.44" y="465.4" font-size="20.5" textLength="84.43" lengthAdjust="spacingAndGlyphs">Loveland</text>

<text x="623.17" y="490" font-size="14.7" textLength="121.22" lengthAdjust="spacingAndGlyphs">Primary Dwelling:</text>
<text x="509.49" y="512" font-size="13.4" textLength="112.87" lengthAdjust="spacingAndGlyphs">Total SqFt: 5574 sf</text>
<text x="508.90" y="531.5" font-size="13.4" textLength="115.94" lengthAdjust="spacingAndGlyphs">Main Level: 2787 sf</text>
<text x="707.33" y="512" font-size="13.4" textLength="135.63" lengthAdjust="spacingAndGlyphs">Total Finished: 2866 sf</text>
<text x="707.68" y="532" font-size="13.4" textLength="168.13" lengthAdjust="spacingAndGlyphs">Basement: 2787 sf (3% Fin)</text>
<text x="612.18" y="560.7" font-size="14.7" textLength="140.89" lengthAdjust="spacingAndGlyphs">Not included in GLA:</text>
<text x="544.54" y="583.8" font-size="13.4" textLength="87.14" lengthAdjust="spacingAndGlyphs">Garage: 663 sf</text>
<text x="692.70" y="583.8" font-size="13.4" textLength="121.40" lengthAdjust="spacingAndGlyphs">Bonus Room: 125 sf</text>
<text x="573.64" y="601.9" font-size="11" textLength="222.36" lengthAdjust="spacingAndGlyphs">*Scope of work available online and by request*</text>
<text x="523.78" y="618" font-size="11.8" textLength="321.28" lengthAdjust="spacingAndGlyphs">Breuer Appraisal Services, LLC (C)04/16/2025 970-290-3836</text>
</g>

<!-- ===== LOGO WATERMARK ===== -->
<defs>
<filter id="blr" x="-30%" y="-30%" width="160%" height="160%"><feGaussianBlur stdDeviation="2"/></filter>
<filter id="blr1" x="-30%" y="-30%" width="160%" height="160%"><feGaussianBlur stdDeviation="1.3"/></filter>
<filter id="blr2" x="-20%" y="-20%" width="140%" height="140%"><feGaussianBlur stdDeviation="0.6"/></filter>
<clipPath id="lc"><circle cx="837.6" cy="688.9" r="28.6"/></clipPath>
</defs>
<g>
<circle cx="837.6" cy="688.9" r="31" fill="#d2d2d2" filter="url(#blr)"/>
<path d="M872.8,666.7 V690.6 M882.6,690.6 V669.4 H898.5 Q901,669.4 901,672.4 V676 Q901,679 898.5,679 H882.6 M898.5,679 Q901,679 901,682 V690.6 M928.2,669.4 H912 Q909.2,669.4 909.2,672.4 V684.8 Q909.2,687.8 912,687.8 H928.2 M909.2,678.6 H925.5 M954.3,669.4 H938 Q935,669.4 935,672.4 V675.6 Q935,678.6 938,678.6 H948.5 Q951.5,678.6 951.5,681.6 V684.8 Q951.5,687.8 948.5,687.8 H931.9" stroke="#cfcfcf" stroke-width="9" fill="none" filter="url(#blr1)"/>
<text x="871" y="709.9" font-size="14.5" font-weight="bold" textLength="97" lengthAdjust="spacingAndGlyphs" style="fill:#c4c4c4;stroke:#c4c4c4;stroke-width:3" filter="url(#blr1)">ColoProperty</text>
<rect x="870" y="692.5" width="92" height="3.5" fill="#d0d0d0" filter="url(#blr1)"/>
<circle cx="837.6" cy="688.9" r="29.3" fill="#fff" stroke="#d4d4d4" stroke-width="0.8"/>
<path clip-path="url(#lc)" d="M806,678 H815.5 V700.5 H806 Z M859.7,678 H869 V700.5 H859.7 Z" fill="#c2c2c2"/>
<circle cx="837.6" cy="688.9" r="25.8" fill="#e2e2e2"/>
<circle cx="837.6" cy="688.9" r="23.5" fill="#cbcbcb"/>
<circle cx="837.6" cy="688.9" r="19" fill="#d3d3d3"/>
<g filter="url(#blr2)">
<path d="M823.8,695.7 V683 L832.1,674.8 L842.8,680.6 L853.9,686.9 V696.6 L836,700.5 Z M836,700.5 V688.9 L842.8,681.1" stroke="#9a9a9a" stroke-width="3.8" fill="none" stroke-linejoin="round"/>
</g>
<path d="M823.8,695.7 V683 L832.1,674.8 L842.8,680.6 L853.9,686.9 V696.6 L836,700.5 Z M836,700.5 V688.9 L842.8,681.1 M827.5,697 V691 H831 V699 M842,699 V693 H846 V698" stroke="#fff" stroke-width="2.4" fill="none" stroke-linejoin="round"/>
<path d="M872.8,666.7 V690.6 M882.6,690.6 V669.4 H898.5 Q901,669.4 901,672.4 V676 Q901,679 898.5,679 H882.6 M898.5,679 Q901,679 901,682 V690.6 M928.2,669.4 H912 Q909.2,669.4 909.2,672.4 V684.8 Q909.2,687.8 912,687.8 H928.2 M909.2,678.6 H925.5 M954.3,669.4 H938 Q935,669.4 935,672.4 V675.6 Q935,678.6 938,678.6 H948.5 Q951.5,678.6 951.5,681.6 V684.8 Q951.5,687.8 948.5,687.8 H931.9" stroke="#b8b8b8" stroke-width="7" fill="none"/>
<path d="M872.8,666.7 V690.6 M882.6,690.6 V669.4 H898.5 Q901,669.4 901,672.4 V676 Q901,679 898.5,679 H882.6 M898.5,679 Q901,679 901,682 V690.6 M928.2,669.4 H912 Q909.2,669.4 909.2,672.4 V684.8 Q909.2,687.8 912,687.8 H928.2 M909.2,678.6 H925.5 M954.3,669.4 H938 Q935,669.4 935,672.4 V675.6 Q935,678.6 938,678.6 H948.5 Q951.5,678.6 951.5,681.6 V684.8 Q951.5,687.8 948.5,687.8 H931.9" stroke="#fff" stroke-width="5" fill="none"/>
<rect x="870" y="693.3" width="90" height="2" fill="#fff" stroke="#c4c4c4" stroke-width="0.6"/>
<text x="871" y="709.9" font-size="14.5" font-weight="bold" textLength="97" lengthAdjust="spacingAndGlyphs" style="fill:#fff;stroke:#b5b5b5;stroke-width:0.9">ColoProperty</text>
<circle cx="958.4" cy="677.6" r="1.6" fill="none" stroke="#c8c8c8" stroke-width="0.6"/>
</g>
</svg>
</body></html>
